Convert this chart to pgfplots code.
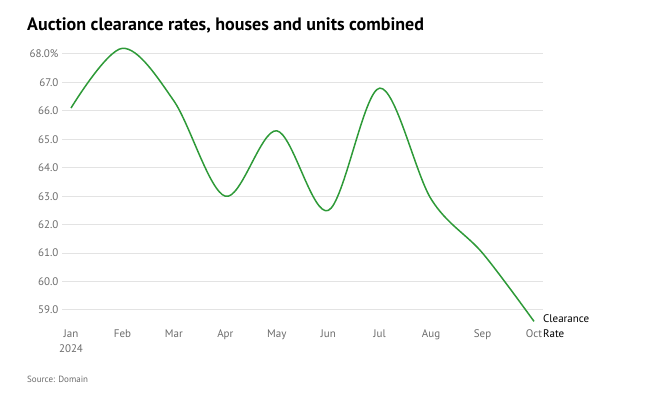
\documentclass[border=0pt]{standalone}
\usepackage{fontspec}
\setmainfont{PT Sans}
\usepackage{pgfplots}
\pgfplotsset{compat=1.18}
\definecolor{linegreen}{HTML}{2E9A38}
\definecolor{gridgray}{HTML}{E3E3E3}
\definecolor{ticktext}{HTML}{6B6B6B}
\begin{document}
\begin{tikzpicture}
\useasboundingbox (0pt,0pt) rectangle (650pt,396pt);
\node[anchor=base west, inner sep=0, font=\bfseries\fontsize{18}{22}\selectfont] at (27pt,365pt) {Auction clearance rates, houses and units combined};
\node[anchor=base west, inner sep=0, font=\fontsize{9}{11}\selectfont, text=ticktext] at (27pt,13pt) {Source: Domain};
\begin{axis}[
  at={(62pt,86pt)}, anchor=south west, scale only axis,
  width=481pt, height=256pt,
  xmin=-0.175, xmax=9.175, ymin=59, ymax=68,
  axis line style={draw=none}, tick style={draw=none},
  ymajorgrids, grid style={gridgray, line width=1pt},
  ytick={59,60,...,68},
  yticklabels={59.0,60.0,61.0,62.0,63.0,64.0,65.0,66.0,67.0,68.0\%},
  xtick={0,...,9},
  xticklabels={Jan\\2024,Feb,Mar,Apr,May,Jun,Jul,Aug,Sep,Oct},
  xticklabel style={align=center, anchor=north, yshift=-16pt, text=ticktext, font=\fontsize{11}{15}\selectfont},
  yticklabel style={text=ticktext, font=\fontsize{11}{12}\selectfont},
  /pgf/number format/assume math mode=true,
  clip=false,
]
\addplot[linegreen, line width=1.5pt, smooth, tension=0.55] coordinates {
  (0,66.1) (1,68.2) (2,66.35) (3,63.0) (4,65.3) (5,62.5) (6,66.8) (7,62.9) (8,61.0) (9,58.6)
};
\node[anchor=north west, inner sep=0, align=left, font=\fontsize{11}{15}\selectfont] at ([xshift=9pt,yshift=7pt]axis cs:9,58.6) {Clearance\\Rate};
\end{axis}
\end{tikzpicture}
\end{document}
